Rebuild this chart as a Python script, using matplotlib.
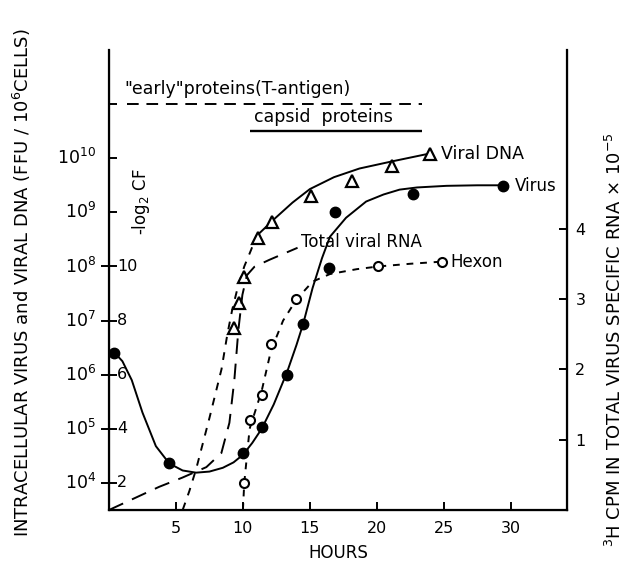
import numpy as np
import matplotlib
matplotlib.use('Agg')
import matplotlib.pyplot as plt
import matplotlib.transforms as mtransforms

plt.rcParams['font.family'] = ['DejaVu Sans']
plt.rcParams['mathtext.fontset'] = 'dejavusans'

# --- data (hours, log10 of FFU/10^6 cells) ---
virus_x = [0.4, 4.5, 10.0, 11.4, 13.3, 14.5, 16.4, 16.9, 22.7, 29.4]
virus_log = [6.41, 4.37, 4.56, 5.03, 6.0, 6.94, 7.98, 9.0, 9.33, 9.48]
virus_curve_x = [0.4, 1.0, 1.7, 2.5, 3.5, 4.5, 5.5, 6.5, 7.5, 8.5, 9.3, 10.0, 10.7, 11.4,
                 12.3, 13.3, 14.0, 14.5, 15.2, 15.9, 16.5, 17.7, 19.2, 20.5, 21.7, 23.0,
                 25.2, 27.5, 29.4]
virus_curve_log = [6.41, 6.25, 5.9, 5.3, 4.68, 4.36, 4.23, 4.19, 4.21, 4.28, 4.38, 4.52,
                   4.74, 5.0, 5.45, 6.05, 6.55, 6.94, 7.6, 8.15, 8.55, 8.9, 9.2, 9.33, 9.42,
                   9.46, 9.49, 9.5, 9.5]

dna_x = [9.3, 9.7, 10.1, 11.1, 12.2, 15.1, 18.15, 21.1, 24.0]
dna_log = [6.87, 7.33, 7.81, 8.53, 8.82, 9.31, 9.58, 9.86, 10.08]
dna_curve_x = [11.0, 12.4, 13.7, 15.0, 16.8, 18.7, 21.1, 24.0]
dna_curve_log = [8.56, 8.89, 9.18, 9.43, 9.65, 9.81, 9.94, 10.09]
dna_dash_x = [5.5, 6.0, 6.5, 7.5, 8.4, 8.84, 9.2, 9.6, 10.1, 10.6, 11.0]
dna_dash_log = [3.5, 3.85, 4.25, 5.2, 6.1, 6.75, 7.2, 7.6, 8.0, 8.3, 8.56]

hexon_x = [10.1, 10.5, 11.4, 12.1, 14.0, 20.1, 24.9]
hexon_log = [4.0, 5.17, 5.63, 6.57, 7.39, 8.0, 8.09]
hexon_curve_x = [10.0, 10.1, 10.5, 11.4, 12.1, 13.0, 14.0, 15.2, 16.5, 18.5, 20.1, 22.5, 24.9]
hexon_curve_log = [3.5, 4.0, 5.0, 5.7, 6.45, 7.0, 7.39, 7.72, 7.86, 7.95, 8.0, 8.05, 8.09]

# total viral RNA on the right-hand axis (3H cpm x 10^-5)
rna_x = [0.0, 3.75, 5.47, 7.27, 8.39, 8.99, 9.36, 9.66, 9.96, 10.3, 10.86, 11.99, 14.08]
rna_cpm = [0.0, 0.33, 0.46, 0.61, 0.81, 1.24, 1.85, 2.56, 3.06, 3.34, 3.46, 3.56, 3.73]

early_span = [1.35, 23.4]
early_log = 11.0
capsid_span = [10.5, 23.4]
capsid_log = 10.5

xticks = [5, 10, 15, 20, 25, 30]
left_major = [4, 5, 6, 7, 8]
left_minor = [9, 10, 11]
left_labels = [4, 5, 6, 7, 8, 9, 10]
cf_labels = [2, 4, 6, 8, 10]
right_ticks = [1, 2, 3, 4]

fs = 12
lw = 1.4

fig = plt.figure(figsize=(6.25, 5.72), dpi=100)
ax = fig.add_axes([109 / 625, 62 / 572, 458 / 625, 460 / 572])

ax.set_yscale('log')
ax.set_xlim(0, 34.2)
ax.set_ylim(10 ** 3.5, 10 ** 12)

p = lambda v: 10 ** np.array(v)

ax.plot(virus_curve_x, p(virus_curve_log), color='black', lw=lw)
ax.plot(virus_x, p(virus_log), 'o', color='black', ms=7.5)

ax.plot(dna_curve_x, p(dna_curve_log), color='black', lw=lw)
ax.plot(dna_dash_x, p(dna_dash_log), color='black', lw=lw, dashes=(4, 4))
ax.plot(dna_x, p(dna_log), '^', mfc='white', mec='black', mew=1.6, ms=8)

ax.plot(hexon_curve_x, p(hexon_curve_log), color='black', lw=lw, dashes=(3.5, 3.5))
ax.plot(hexon_x, p(hexon_log), 'o', mfc='white', mec='black', mew=1.5, ms=6.5)

ax.hlines(10 ** early_log, early_span[0], early_span[1], color='black', lw=lw,
          linestyles=(0, (6, 4)))
ax.hlines(10 ** capsid_log, capsid_span[0], capsid_span[1], color='black', lw=lw + 0.3)

ax.text(early_span[0] - 0.2, 10 ** (early_log + 0.12), '"early"proteins(T-antigen)',
        fontsize=fs + 0.5, va='bottom', ha='left')
ax.text(capsid_span[0] + 0.3, 10 ** (capsid_log + 0.1), 'capsid  proteins',
        fontsize=fs + 0.5, va='bottom', ha='left')
ax.text(dna_x[-1] + 0.8, p(dna_log[-1]), 'Viral DNA', fontsize=fs + 0.5, va='center', ha='left')
ax.text(virus_x[-1] + 0.9, p(virus_log[-1]), 'Virus', fontsize=fs, va='center', ha='left')
ax.text(hexon_x[-1] + 0.6, p(hexon_log[-1]), 'Hexon', fontsize=fs, va='center', ha='left')
ax.text(14.3, 10 ** 8.45, 'Total viral RNA', fontsize=fs, va='center', ha='left')

# left axis
ax.set_yticks(p(left_major))
ax.set_yticks(p(left_minor), minor=True)
ax.yaxis.set_major_formatter(matplotlib.ticker.NullFormatter())
ax.yaxis.set_minor_formatter(matplotlib.ticker.NullFormatter())
ax.tick_params(axis='y', which='major', direction='inout', length=12, width=lw)
ax.tick_params(axis='y', which='minor', direction='in', length=6, width=lw)
trans = mtransforms.blended_transform_factory(ax.transAxes, ax.transData)
for e in left_labels:
    ax.text(-0.028, 10 ** e, '$10^{%d}$' % e, transform=trans, fontsize=fs + 0.5,
            ha='right', va='center')
for e, c in zip(left_major, cf_labels):
    ax.text(0.018, 10 ** e, str(c), transform=trans, fontsize=fs - 0.5, ha='left', va='center')
ax.text(0.07, 10 ** 9.2, '-log$_2$ CF', transform=trans, fontsize=fs, rotation=90,
        ha='center', va='center')

ax.set_xticks(xticks)
ax.set_xticklabels([str(t) for t in xticks], fontsize=fs - 0.5)
ax.tick_params(axis='x', direction='in', length=6, width=lw, pad=8)
ax.set_xlabel('HOURS', fontsize=fs, labelpad=6)
ax.set_ylabel('INTRACELLULAR VIRUS and VIRAL DNA (FFU / 10$^6$CELLS)', fontsize=13)
ax.yaxis.set_label_coords(-0.165, 0.494)

ax.spines['top'].set_visible(False)
for s in ['left', 'bottom']:
    ax.spines[s].set_linewidth(lw + 0.2)

# right axis: total RNA
ax2 = ax.twinx()
ax2.set_ylim(0, 460 / 70.3)
ax2.plot(rna_x, rna_cpm, color='black', lw=lw, dashes=(8, 5))
ax2.set_yticks(right_ticks)
ax2.set_yticklabels([str(t) for t in right_ticks], fontsize=fs - 0.5)
ax2.tick_params(axis='y', direction='in', length=6, width=lw, pad=6)
ax2.spines['top'].set_visible(False)
ax2.spines['right'].set_linewidth(lw + 0.2)
ax2.set_ylabel('$^3$H CPM IN TOTAL VIRUS SPECIFIC RNA × 10$^{-5}$', fontsize=13,
               rotation=90)
ax2.yaxis.set_label_coords(1.083, 0.37)

fig.savefig('out.png', dpi=100)
